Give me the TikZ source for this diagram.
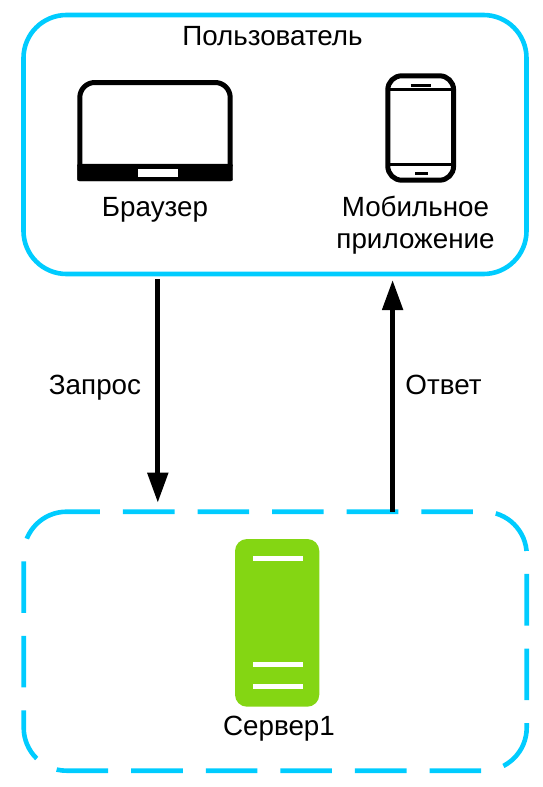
\documentclass[tikz,border=0pt]{standalone}
\usepackage{fontspec}
\setmainfont{Liberation Sans}
\usetikzlibrary{arrows.meta}
\usetikzlibrary{calc}
\definecolor{boxcyan}{HTML}{00CCFF}
\definecolor{servergreen}{HTML}{84D613}
\tikzset{
  lbl/.style={font=\fontsize{27.8}{32}\selectfont, align=center, text=black, inner sep=0pt},
  boxframe/.style={draw=boxcyan, line width=4.6pt, rounded corners=43pt, outer sep=0pt, inner sep=0pt},
  flowarrow/.style={line width=5pt, -{Triangle[length=30pt,width=20pt]}},
  icon/.style={line width=5pt, rounded corners=15pt},
  iconthin/.style={line width=2.6pt},
  srvline/.style={draw=white, line width=4.6pt}
}

\begin{document}
\begin{tikzpicture}[x=1pt, y=-1pt]
 \useasboundingbox (0,0) rectangle (542,787);

 % user box
 \node[boxframe, minimum width=503pt, minimum height=259pt] (userbox) at (275,144.5) {};
 \node[lbl, anchor=base] (usertitle) at (272.5,45) {Пользователь};

 % laptop
 \draw[icon] (79.8,166)--(79.8,82.5)--(230.2,82.5)--(230.2,166);
 \draw[fill=black, rounded corners=2pt] (77.3,164) rectangle (232.7,181);
 \draw[fill=white, draw=none] (137.7,168.7) rectangle (178,177);
 \node[lbl, anchor=base] (browser) at (155,216.5) {Браузер};

 % phone
 \draw[icon, rounded corners=14pt] (387.8,75.8) rectangle (453.6,180.2);
 \draw[iconthin] (387.8,89.3)--(453.6,89.3);
 \draw[iconthin] (387.8,164.3)--(453.6,164.3);
 \draw[iconthin] (410.7,85.3)--(431,85.3);
 \draw[iconthin] (415,173.3)--(428.3,173.3);
 \node[lbl] (mobile) at (415.5,225) {Мобильное\\приложение};

 % server box, invisible node and the dashes on top of it
 \node[outer sep=0pt, inner sep=0pt, minimum width=503pt, minimum height=259pt] (serverbox) at (275.2,641.2) {};
 \draw[draw=boxcyan, line width=4.6pt, rounded corners=43pt, dash pattern=on 51.6pt off 23pt, dash phase=18.4pt]
   ($(serverbox.north west)+(43,0)$)--(serverbox.north east)--(serverbox.south east)--(serverbox.south west)--(serverbox.north west)--($(serverbox.north west)+(43,0)$);

 % server
 \draw[fill=servergreen, draw=none, rounded corners=12pt] (235,539) rectangle (319.3,706.7);
 \draw[srvline] (253,558.3)--(303,558.3);
 \draw[srvline] (253,664.3)--(303,664.3);
 \draw[srvline] (253,686.3)--(303,686.3);
 \node[lbl, anchor=base] (server) at (279,735) {Сервер1};

 % request and response
 \coordinate (reqx) at (157.8,400);
 \coordinate (respx) at (392.6,400);
 \draw[flowarrow, shorten <=5.3pt, shorten >=9pt] (userbox.south -| reqx)--(serverbox.north -| reqx);
 \draw[flowarrow, shorten >=6pt] (serverbox.north -| respx)--(userbox.south -| respx);
 \node[lbl, anchor=base] (reqlabel) at (95,394) {Запрос};
 \node[lbl, anchor=base] (resplabel) at (443.5,394) {Ответ};
\end{tikzpicture}
\end{document}
